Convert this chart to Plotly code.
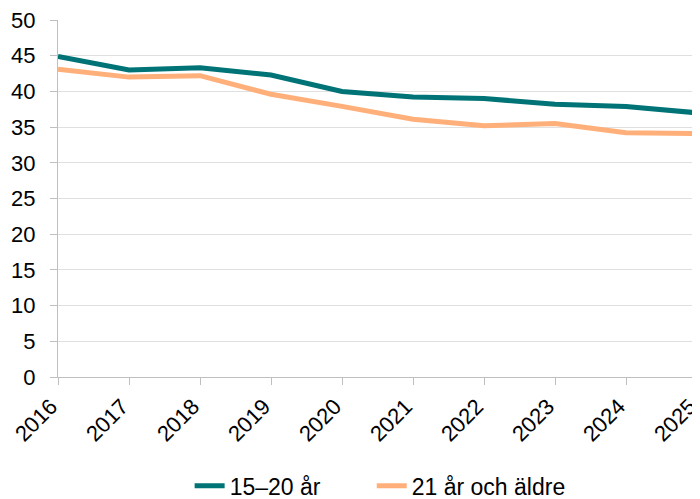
import plotly.graph_objects as go

years = ["2016", "2017", "2018", "2019", "2020", "2021", "2022", "2023", "2024", "2025"]
young = [44.9, 43.0, 43.3, 42.3, 40.0, 39.2, 39.0, 38.2, 37.9, 37.0]
older = [43.1, 42.0, 42.2, 39.6, 37.9, 36.1, 35.2, 35.5, 34.2, 34.1]

FONT = dict(family="Liberation Sans, Arial, sans-serif", size=22, color="#000000")

fig = go.Figure()
fig.add_trace(go.Scatter(x=years, y=young, name="15–20 år", mode="lines",
                         line=dict(color="#007377", width=5), legend="legend"))
fig.add_trace(go.Scatter(x=years, y=older, name="21 år och äldre", mode="lines",
                         line=dict(color="#FFB07A", width=5), legend="legend2"))

leg = dict(orientation="h", xanchor="left", y=-0.305, yanchor="middle",
           font=dict(size=23), bgcolor="rgba(0,0,0,0)")

# page body has an 8px margin, so the figure is sized to fit the window
fig.update_layout(
    width=692, height=491,
    plot_bgcolor="white", paper_bgcolor="white",
    font=FONT,
    margin=dict(l=50, r=3, t=12, b=122, autoexpand=False),
    showlegend=True,
    legend=dict(leg, x=0.206),
    legend2=dict(leg, x=0.491),
    xaxis=dict(type="category", range=[0, 9], showgrid=False, showline=True,
               linecolor="#bfbfbf", linewidth=1, ticks="outside", tickcolor="#bfbfbf",
               ticklen=7, tickangle=-45, automargin=False, ticklabelshift=-7),
    yaxis=dict(range=[0, 50], dtick=5, showgrid=True, gridcolor="#e0e0e0",
               showline=True, linecolor="#bfbfbf", ticks="outside", tickcolor="#bfbfbf",
               ticklen=7, zeroline=False, automargin=False, ticklabelstandoff=10,
               ticklabeloverflow="allow"),
)

fig.write_html("out.html")
